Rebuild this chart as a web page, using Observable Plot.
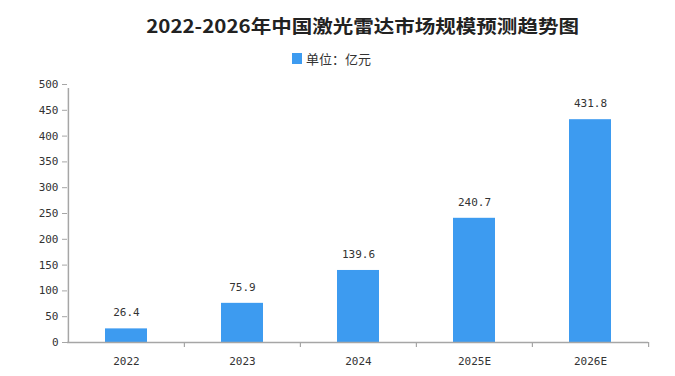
<!DOCTYPE html>
<html>
<head>
<meta charset="utf-8">
<script src="https://cdn.jsdelivr.net/npm/d3@7"></script>
<script src="https://cdn.jsdelivr.net/npm/@observablehq/plot@0.6"></script>
<style>
  html, body { margin: 0; padding: 0; background: #fff; }
  #wrap { position: relative; width: 675px; height: 376px; overflow: hidden; }
  #title { position: absolute; left: 0; top: 12px; width: 675px; text-align: center;
    font-family: "Noto Sans CJK SC", sans-serif; font-weight: bold; font-size: 18px; color: #222;
    transform: translateX(25px) scaleX(1.14); transform-origin: 337px 0; white-space: nowrap; }
  #legend { position: absolute; left: 292px; top: 49px; font-family: "Noto Sans CJK SC", sans-serif;
    font-size: 13px; color: #333; display: flex; align-items: center; white-space: nowrap; }
  #legend .sw { width: 10px; height: 11px; background: #3d9bf0; margin-right: 4px; }
  #chart { position: absolute; left: 0; top: 75px; }
</style>
</head>
<body>
<div id="wrap">
  <div id="title">2022-2026年中国激光雷达市场规模预测趋势图</div>
  <div id="legend"><span class="sw"></span><span>单位：亿元</span></div>
  <div id="chart"></div>
</div>
<script>
const years = ["2022", "2023", "2024", "2025E", "2026E"];
const values = [26.4, 75.9, 139.6, 240.7, 431.8];
const yTicks = [0, 50, 100, 150, 200, 250, 300, 350, 400, 450, 500];

const data = years.map((y, i) => ({year: y, value: values[i]}));
const color = "#3d9bf0";
const axisColor = "#a6a6a6";
const marginLeft = 67, marginRight = 27;
const halfStep = (675 - marginLeft - marginRight) / years.length / 2;

const plot = Plot.plot({
  width: 675,
  height: 301,
  marginLeft,
  marginRight,
  marginTop: 9,
  marginBottom: 34,
  style: {fontFamily: "'DejaVu Sans Mono', monospace", fontSize: "11px", color: "#333", background: "#fff"},
  x: {domain: years, paddingInner: 0.64, paddingOuter: 0.32, label: null},
  y: {domain: [0, 500], label: null},
  marks: [
    Plot.barY(data, {x: "year", y: "value", fill: color}),
    Plot.text(data, {x: "year", y: "value", text: d => d.value.toFixed(1), dy: -16, fill: "#333", fontSize: 11}),
    // x axis line
    Plot.ruleY([0], {stroke: axisColor, strokeWidth: 1.5}),
    // y axis line
    Plot.ruleX([years[0]], {dx: -halfStep, y1: 0, y2: 500, insetTop: 0, insetBottom: -4, stroke: axisColor, strokeWidth: 1.5}),
    // x boundary ticks
    Plot.ruleX(years.slice(1), {x: d => d, dx: -halfStep, y1: 0, y2: 0, insetTop: 0, insetBottom: -5, stroke: axisColor, strokeWidth: 1.2}),
    Plot.ruleX(years.slice(-1), {x: d => d, dx: halfStep, y1: 0, y2: 0, insetTop: 0, insetBottom: -5, stroke: axisColor, strokeWidth: 1.2}),
    Plot.axisX({tickSize: 0, tickPadding: 15, fontSize: 11, color: "#333"}),
    Plot.axisY({ticks: yTicks, tickSize: 5, tickPadding: 4, stroke: axisColor, fontSize: 11, color: "#333"})
  ]
});
document.getElementById("chart").appendChild(plot);
</script>
</body>
</html>
